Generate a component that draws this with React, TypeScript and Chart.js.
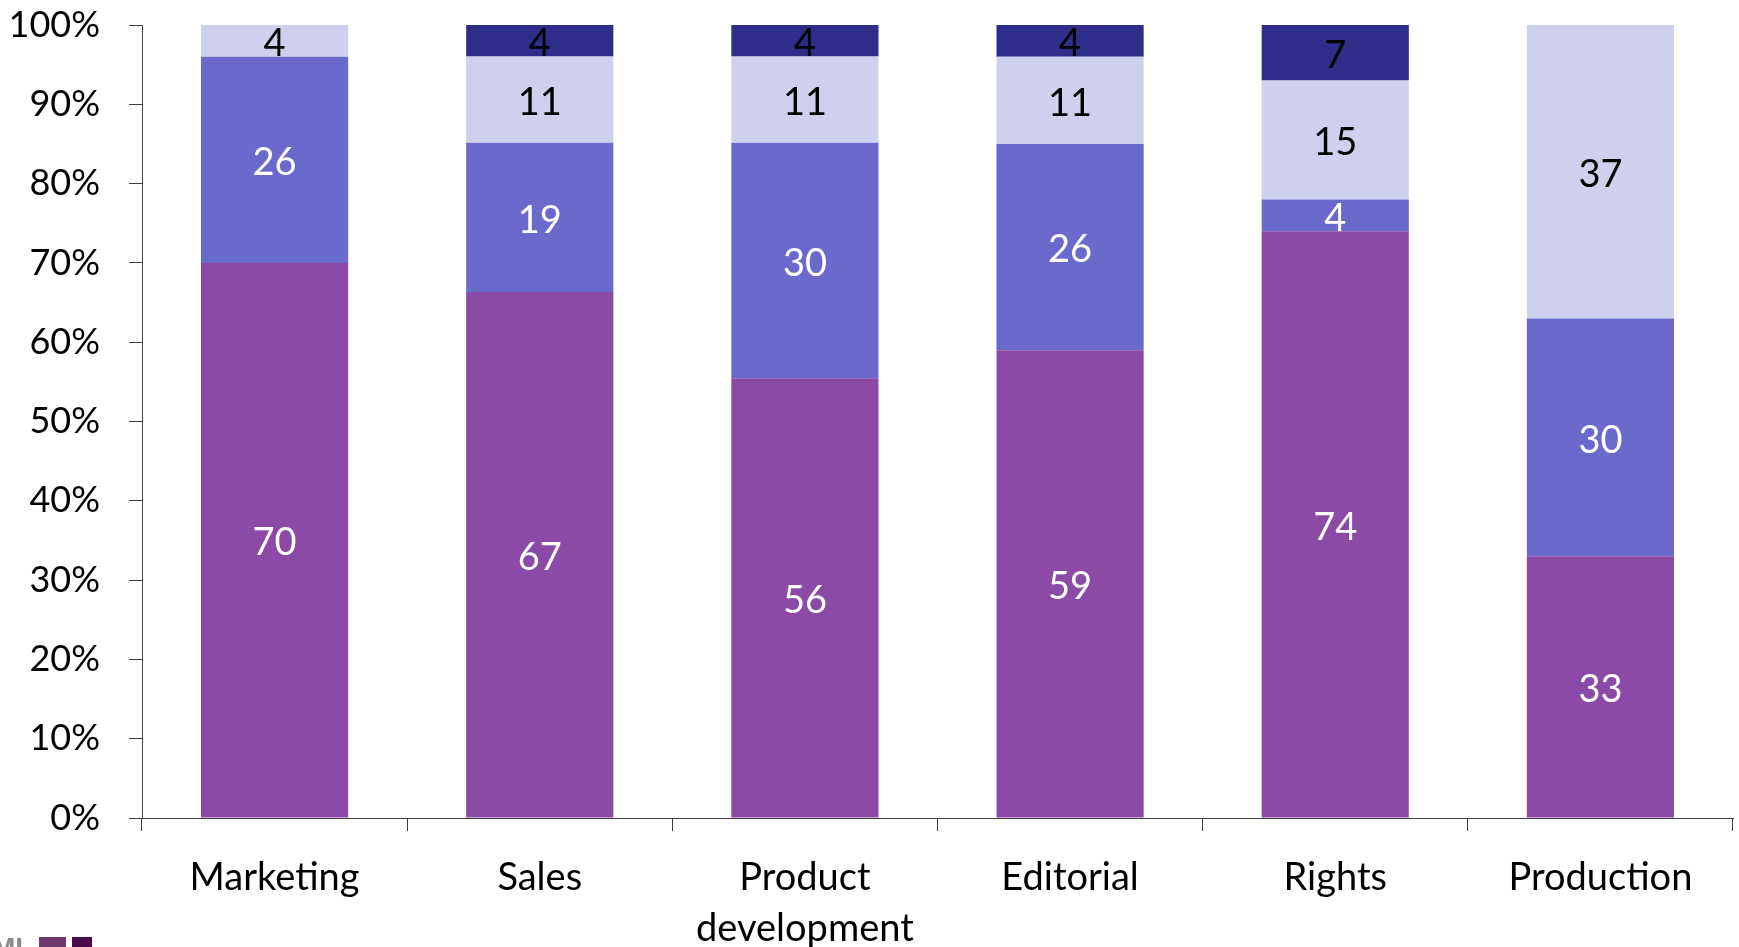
import React, { useEffect, useRef } from "react";
import { Chart, registerables } from "chart.js";

Chart.register(...registerables);

const categories: (string | string[])[] = [
  "Marketing",
  "Sales",
  ["Product", "development"],
  "Editorial",
  "Rights",
  "Production",
];
const seriesA = [70, 67, 56, 59, 74, 33];
const seriesB = [26, 19, 30, 26, 4, 30];
const seriesC = [4, 11, 11, 11, 15, 37];
const seriesD = [0, 4, 4, 4, 7, 0];
const yTicks = [0, 10, 20, 30, 40, 50, 60, 70, 80, 90, 100];

const seriesList = [seriesA, seriesB, seriesC, seriesD];
const colors = ["#8B4AA6", "#6A6ACD", "#CFCFEE", "#2E2E8A"];
const labelColors = ["#FFFFFF", "#FFFFFF", "#000000", "#000000"];
const FONT = "Lato, 'Noto Sans', sans-serif";

const totals = categories.map((_, i) =>
  seriesList.reduce((s, arr) => s + arr[i], 0)
);

const labelPlugin = {
  id: "segLabels",
  afterDatasetsDraw(chart: any) {
    const ctx = chart.ctx;
    ctx.save();
    ctx.font = `38px ${FONT}`;
    ctx.textAlign = "center";
    ctx.textBaseline = "middle";
    chart.data.datasets.forEach((ds: any, di: number) => {
      const meta = chart.getDatasetMeta(di);
      meta.data.forEach((el: any, i: number) => {
        const raw = seriesList[di][i];
        if (!raw) return;
        const y = (el.y + el.base) / 2;
        ctx.fillStyle = labelColors[di];
        ctx.fillText(String(raw), el.x, y + 3);
      });
    });
    ctx.restore();
  },
};

export default function App() {
  const ref = useRef<HTMLCanvasElement | null>(null);
  useEffect(() => {
    if (!ref.current) return;
    const chart = new Chart(ref.current, {
      type: "bar",
      data: {
        labels: categories as any,
        datasets: seriesList.map((arr, di) => ({
          label: "S" + di,
          data: arr.map((v, i) => (v / totals[i]) * 100),
          backgroundColor: colors[di],
          borderWidth: 0,
          categoryPercentage: 1,
          barPercentage: 0.555,
        })),
      },
      plugins: [labelPlugin],
      options: {
        animation: false,
        responsive: false,
        maintainAspectRatio: false,
        layout: { padding: { top: 25, right: 6, left: 0, bottom: 0 } },
        plugins: { legend: { display: false }, tooltip: { enabled: false } },
        scales: {
          x: {
            stacked: true,
            offset: true,
            grid: {
              offset: true,
              drawOnChartArea: false,
              drawTicks: true,
              tickLength: 13,
              color: "#404040",
            },
            border: { display: true, color: "#404040", width: 1 },
            ticks: {
              color: "#000",
              font: { family: FONT, size: 38, lineHeight: 1.34 },
              padding: 21,
              maxRotation: 0,
              autoSkip: false,
            },
            afterFit: (axis: any) => {
              axis.height = 129;
              axis.paddingLeft = 0;
              axis.paddingRight = 0;
            },
          },
          y: {
            stacked: true,
            min: 0,
            max: 100,
            afterBuildTicks: (axis: any) => {
              axis.ticks = yTicks.map((v) => ({ value: v }));
            },
            grid: {
              drawOnChartArea: false,
              drawTicks: true,
              tickLength: 13,
              color: "#404040",
            },
            border: { display: true, color: "#404040", width: 1 },
            ticks: {
              color: "#000",
              font: { family: FONT, size: 36 },
              padding: 29,
              callback: (v: any) => v + "%",
            },
            afterFit: (axis: any) => {
              axis.width = 142;
              axis.paddingTop = 0;
              axis.paddingBottom = 0;
            },
          },
        },
      },
    });
    return () => chart.destroy();
  }, []);

  return (
    <div
      style={{
        position: "absolute",
        left: 0,
        top: 0,
        width: 1739,
        height: 947,
        background: "#fff",
        overflow: "hidden",
      }}
    >
      <canvas ref={ref} width={1739} height={947} style={{ display: "block" }} />
      <div
        style={{
          position: "absolute",
          left: -8,
          top: 934,
          fontFamily: "Arial, sans-serif",
          fontWeight: "bold",
          fontSize: 28,
          color: "#8a8a8a",
          lineHeight: "28px",
        }}
      >
        MI
      </div>
      <div style={{ position: "absolute", left: 39, top: 937, width: 27, height: 12, background: "#6E3A6E" }} />
      <div style={{ position: "absolute", left: 72, top: 937, width: 20, height: 12, background: "#4B0A4B" }} />
    </div>
  );
}
